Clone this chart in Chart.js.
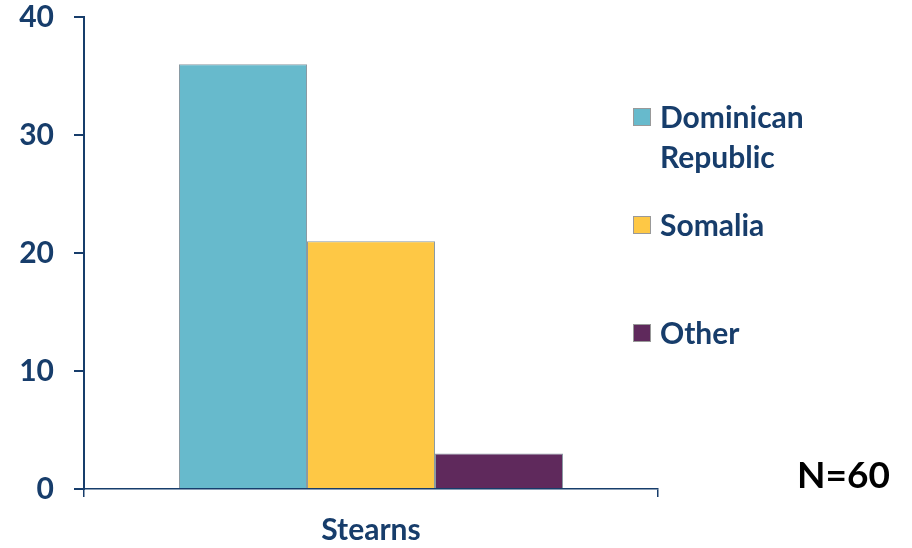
<!DOCTYPE html>
<html>
<head>
<meta charset="utf-8">
<script src="https://cdn.jsdelivr.net/npm/chart.js@4.4.0/dist/chart.umd.min.js"></script>
<style>
  html, body { margin: 0; padding: 0; background: #fff; }
  #wrap { position: relative; width: 912px; height: 548px; }
  canvas { position: absolute; left: 0; top: 0; }
  .leg { position: absolute; font-family: Lato, sans-serif; font-weight: bold; color: #173d6b; font-size: 30px; line-height: 40px; }
  .sw { position: absolute; width: 18px; height: 18px; box-sizing: border-box; border: 1px solid #999; }
  #note { position: absolute; left: 797px; top: 451px; font-family: Lato, sans-serif; font-weight: bold; font-size: 37px; color: #000; }
</style>
</head>
<body>
<div id="wrap">
  <canvas id="c" width="912" height="548"></canvas>
  <div id="legend"></div>
  <div id="note">N=60</div>
</div>
<script>
const categories = ["Stearns"];
const seriesNames = [["Dominican", "Republic"], ["Somalia"], ["Other"]];
const seriesValues = [[36], [21], [3]];
const seriesColors = ["#67bacc", "#fec845", "#5f295c"];
const yTicks = [0, 10, 20, 30, 40];
const noteText = "N=60";

const navy = "#173d6b";
const tickFont = { family: "Lato", weight: "bold", size: 30 };

const ctx = document.getElementById('c').getContext('2d');
new Chart(ctx, {
  type: 'bar',
  data: {
    labels: categories,
    datasets: seriesValues.map((v, i) => ({
      label: seriesNames[i].join(' '),
      data: v,
      backgroundColor: seriesColors[i],
      borderColor: '#8a9aa3',
      borderWidth: 1,
      barPercentage: 1,
      categoryPercentage: 0.669
    }))
  },
  options: {
    responsive: false,
    animation: false,
    events: [],
    layout: { padding: { top: 17, right: 254, left: 0, bottom: 0 } },
    plugins: { legend: { display: false }, tooltip: { enabled: false } },
    scales: {
      x: {
        offset: true,
        grid: { display: true, drawOnChartArea: false, tickLength: 8, color: navy, lineWidth: 1.5, offset: true },
        border: { color: navy, width: 1.5 },
        ticks: { color: navy, font: tickFont, padding: 15 },
        afterFit: s => { s.height = 59; s.paddingLeft = 0; s.paddingRight = 0; }
      },
      y: {
        min: 0, max: 40,
        afterBuildTicks: s => { s.ticks = yTicks.map(v => ({ value: v })); },
        grid: { display: true, drawOnChartArea: false, tickLength: 10, color: navy, lineWidth: 2 },
        border: { color: navy, width: 2 },
        ticks: { color: navy, font: tickFont, padding: 20 },
        afterFit: s => { s.width = 84; s.paddingTop = 0; s.paddingBottom = 0; }
      }
    }
  }
});

// HTML legend
const legendTops = [96, 204, 312];
const leg = document.getElementById('legend');
seriesNames.forEach((n, i) => {
  const sw = document.createElement('div');
  sw.className = 'sw';
  sw.style.left = '633px';
  sw.style.top = (legendTops[i] + 12) + 'px';
  sw.style.background = seriesColors[i];
  leg.appendChild(sw);
  const t = document.createElement('div');
  t.className = 'leg';
  t.style.left = '660px';
  t.style.top = legendTops[i] + 'px';
  t.innerHTML = n.join('<br>');
  leg.appendChild(t);
});
document.getElementById('note').textContent = noteText;
</script>
</body>
</html>
